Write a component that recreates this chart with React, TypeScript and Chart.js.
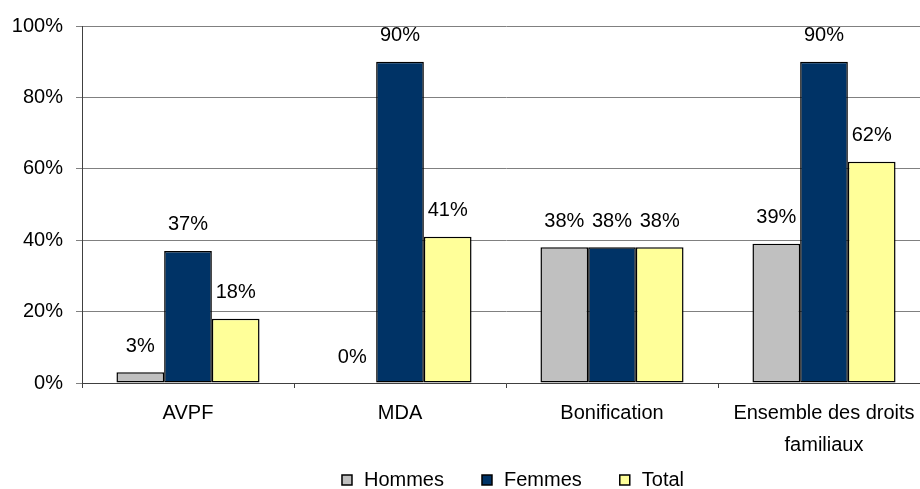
import React, { useEffect, useRef } from "react";
import { Chart, registerables } from "chart.js";

Chart.register(...registerables);

// Categories (multi-line label for the last one)
const categories: (string | string[])[] = [
  "AVPF",
  "MDA",
  "Bonification",
  ["Ensemble des droits", "familiaux"],
];

// Percentages per series
const hommes = [3, 0, 38, 39];
const femmes = [37, 90, 38, 90];
const total = [18, 41, 38, 62];

const seriesNames = ["Hommes", "Femmes", "Total"];
const seriesColors = ["#C0C0C0", "#003366", "#FFFF99"];

const yTicks = [0, 20, 40, 60, 80, 100];

const FONT = "'Liberation Sans', Arial, Helvetica, sans-serif";
const FONT_SIZE = 20;

// Writes each bar's value as a percentage above it
const valueLabels = {
  id: "valueLabels",
  afterDatasetsDraw(chart: Chart) {
    const ctx = chart.ctx;
    ctx.save();
    ctx.font = `${FONT_SIZE}px ${FONT}`;
    ctx.fillStyle = "#000";
    ctx.textAlign = "center";
    ctx.textBaseline = "middle";
    chart.data.datasets.forEach((ds, di) => {
      const meta = chart.getDatasetMeta(di);
      meta.data.forEach((el: any, i: number) => {
        const v = ds.data[i] as number;
        ctx.fillText(`${v}%`, el.x, el.y - 26);
      });
    });
    ctx.restore();
  },
};

// Legend row along the bottom: outlined square swatch + series name
const bottomLegend = {
  id: "bottomLegend",
  afterDraw(chart: Chart) {
    const ctx = chart.ctx;
    const box = 10;
    const textGap = 12;
    const itemGap = 38;
    const cy = 480;
    ctx.save();
    ctx.font = `${FONT_SIZE}px ${FONT}`;
    ctx.textBaseline = "middle";
    ctx.textAlign = "left";
    const items = chart.data.datasets.map((ds) => ({
      text: String(ds.label),
      color: ds.backgroundColor as string,
      w: ctx.measureText(String(ds.label)).width,
    }));
    const totalW =
      items.reduce((a, it) => a + box + textGap + it.w, 0) +
      itemGap * (items.length - 1);
    let x = chart.width / 2 - totalW / 2;
    items.forEach((it) => {
      ctx.fillStyle = it.color;
      ctx.fillRect(x, cy - box / 2, box, box);
      ctx.strokeStyle = "#000";
      ctx.lineWidth = 1.5;
      ctx.strokeRect(x, cy - box / 2, box, box);
      ctx.fillStyle = "#000";
      ctx.fillText(it.text, x + box + textGap, cy);
      x += box + textGap + it.w + itemGap;
    });
    ctx.restore();
  },
};

export default function App() {
  const canvasRef = useRef<HTMLCanvasElement | null>(null);

  useEffect(() => {
    if (!canvasRef.current) return;
    const data = [hommes, femmes, total];
    const chart = new Chart(canvasRef.current, {
      type: "bar",
      data: {
        labels: categories,
        datasets: data.map((vals, k) => ({
          label: seriesNames[k],
          data: vals,
          backgroundColor: seriesColors[k],
          borderColor: "#000",
          borderWidth: 1.5,
          borderSkipped: false,
          categoryPercentage: 0.675,
          barPercentage: 1,
        })),
      },
      options: {
        responsive: false,
        animation: false,
        devicePixelRatio: 1,
        layout: { padding: { top: 26, left: 0, right: 0, bottom: 0 } },
        plugins: {
          tooltip: { enabled: false },
          legend: { display: false },
        },
        scales: {
          x: {
            grid: {
              display: true,
              offset: true,
              drawOnChartArea: false,
              drawTicks: true,
              tickLength: 5,
              color: "#404040",
            },
            border: { display: true, color: "#404040", width: 1 },
            ticks: {
              color: "#000",
              padding: 9,
              maxRotation: 0,
              autoSkip: false,
              font: { family: FONT, size: FONT_SIZE, lineHeight: 1.6 },
            },
            afterFit: (s: any) => {
              s.height = 106;
            },
          },
          y: {
            min: 0,
            max: 100,
            afterBuildTicks: (s: any) => {
              s.ticks = yTicks.map((v) => ({ value: v }));
            },
            grid: { color: "#808080", lineWidth: 1, tickLength: 6 },
            border: { display: true, color: "#404040", width: 1 },
            ticks: {
              color: "#000",
              padding: 13,
              font: { family: FONT, size: FONT_SIZE },
              callback: (v: any) => `${v}%`,
            },
            afterFit: (s: any) => {
              s.width = 82;
            },
          },
          // blank spacer on the right so the plot runs past the visible edge
          spacer: {
            type: "linear",
            position: "right",
            display: true,
            grid: { display: false, drawTicks: false },
            border: { display: false },
            ticks: { display: false },
            afterFit: (s: any) => {
              s.width = 96;
            },
          },
        },
      },
      plugins: [valueLabels, bottomLegend],
    });
    return () => chart.destroy();
  }, []);

  return (
    <div
      style={{
        position: "fixed",
        left: 0,
        top: 0,
        width: 920,
        height: 489,
        overflow: "hidden",
        background: "#fff",
      }}
    >
      <canvas ref={canvasRef} width={1026} height={489} />
    </div>
  );
}
